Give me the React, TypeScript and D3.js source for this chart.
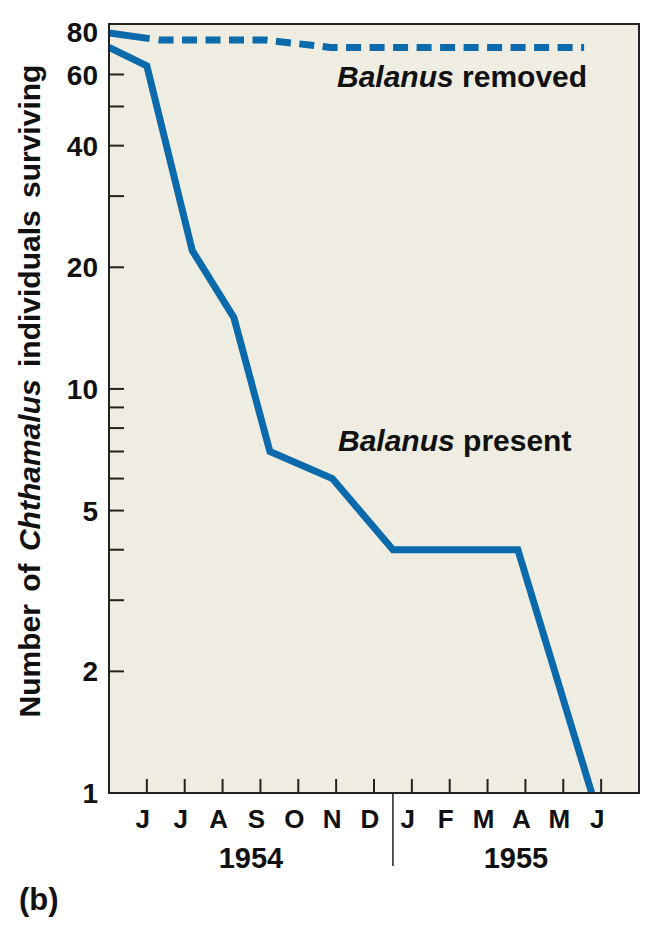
import React, { useEffect, useRef } from "react";
import { select, scaleLinear, scaleLog, line } from "d3";

// month index: 0 = June 1954
const monthLabels = ["J", "J", "A", "S", "O", "N", "D", "J", "F", "M", "A", "M", "J"];
const yearLabels = ["1954", "1955"];
const yearStarts = [-1, 6.5];
const yearEnds = [6.5, 13];
const yLabelTicks = [1, 2, 5, 10, 20, 40, 60, 80];
const yMinorTicks = [3, 4, 6, 7, 8, 9, 30, 50];

// Balanus present
const presentMonths = [-1, 0, 1.2, 2.3, 3.25, 4.9, 6.5, 9.8, 11.75];
const presentValues = [70, 63, 22, 15, 7, 6, 4, 4, 1];
// Balanus removed
const removedMonths = [-1, 0.35, 3.15, 4.85, 11.55];
const removedValues = [76, 73, 73, 70, 70];

const W = 646;
const H = 937;
const FONT = "'Liberation Sans', Arial, Helvetica, sans-serif";
const BLUE = "#0a6aab";
const INK = "#111";

const App = () => {
  const svgRef = useRef() as React.MutableRefObject<SVGSVGElement>;

  useEffect(() => {
    const margin = { top: 24, right: 7, bottom: 144, left: 109 };
    const svg = select(svgRef.current);
    svg.selectAll("*").remove();

    const x0 = margin.left;
    const x1 = W - margin.right;
    const y0 = margin.top;
    const y1 = H - margin.bottom;

    const x = scaleLinear().domain([-1, 13]).range([x0, x1]);
    const y = scaleLog().domain([1, 80]).range([y1, y0]);

    svg
      .append("defs")
      .append("clipPath")
      .attr("id", "plot-clip")
      .append("rect")
      .attr("x", x0)
      .attr("y", y0)
      .attr("width", x1 - x0)
      .attr("height", y1 - y0);

    svg
      .append("rect")
      .attr("x", x0)
      .attr("y", y0)
      .attr("width", x1 - x0)
      .attr("height", y1 - y0)
      .attr("fill", "#efece1");

    const lineGen = line<[number, number]>()
      .x((d) => x(d[0]))
      .y((d) => y(d[1]));

    const plot = svg.append("g").attr("clip-path", "url(#plot-clip)");

    const dash = ["41 9"];
    for (let i = 0; i < 40; i++) dash.push("15 8.5");

    plot
      .append("path")
      .attr("d", lineGen(removedMonths.map((m, i) => [m, removedValues[i]])) as string)
      .attr("fill", "none")
      .attr("stroke", BLUE)
      .attr("stroke-width", 7)
      .attr("stroke-dasharray", dash.join(" "));

    plot
      .append("path")
      .attr("d", lineGen(presentMonths.map((m, i) => [m, presentValues[i]])) as string)
      .attr("fill", "none")
      .attr("stroke", BLUE)
      .attr("stroke-width", 7)
      .attr("stroke-linejoin", "miter");

    // y ticks
    const tickLen = 15;
    [...yLabelTicks, ...yMinorTicks]
      .filter((v) => v > 1 && v < 80)
      .forEach((v) => {
        svg
          .append("line")
          .attr("x1", x0)
          .attr("x2", x0 + tickLen)
          .attr("y1", y(v))
          .attr("y2", y(v))
          .attr("stroke", "#222")
          .attr("stroke-width", 2);
      });

    svg
      .selectAll("text.ylab")
      .data(yLabelTicks)
      .join("text")
      .attr("class", "ylab")
      .attr("x", x0 - 11)
      .attr("y", (d) => Math.max(y(d), y0 + 8))
      .attr("dy", "0.36em")
      .attr("text-anchor", "end")
      .attr("font-family", FONT)
      .attr("font-weight", "bold")
      .attr("font-size", 28)
      .attr("fill", INK)
      .text((d) => d);

    // x ticks
    monthLabels.forEach((m, i) => {
      svg
        .append("line")
        .attr("x1", x(i))
        .attr("x2", x(i))
        .attr("y1", y1)
        .attr("y2", y1 - 14)
        .attr("stroke", "#222")
        .attr("stroke-width", 2);
      svg
        .append("text")
        .attr("x", x(i) - 4)
        .attr("y", y1 + 35)
        .attr("text-anchor", "middle")
        .attr("font-family", FONT)
        .attr("font-weight", "bold")
        .attr("font-size", 26)
        .attr("fill", INK)
        .text(m);
    });

    // year divider
    svg
      .append("line")
      .attr("x1", x(yearEnds[0]))
      .attr("x2", x(yearEnds[0]))
      .attr("y1", y1)
      .attr("y2", y1 + 73)
      .attr("stroke", "#222")
      .attr("stroke-width", 1.5);

    yearLabels.forEach((yr, i) => {
      svg
        .append("text")
        .attr("x", (x(yearStarts[i]) + x(yearEnds[i])) / 2)
        .attr("y", y1 + 75)
        .attr("text-anchor", "middle")
        .attr("font-family", FONT)
        .attr("font-weight", "bold")
        .attr("font-size", 29)
        .attr("fill", INK)
        .text(yr);
    });

    // frame
    svg
      .append("rect")
      .attr("x", x0)
      .attr("y", y0)
      .attr("width", x1 - x0)
      .attr("height", y1 - y0)
      .attr("fill", "none")
      .attr("stroke", "#222")
      .attr("stroke-width", 2);

    // series labels
    const label = (lx: number, ly: number, rest: string) => {
      const t = svg
        .append("text")
        .attr("x", lx)
        .attr("y", ly)
        .attr("font-family", FONT)
        .attr("font-weight", "bold")
        .attr("font-size", 30)
        .attr("fill", INK);
      t.append("tspan").attr("font-style", "italic").text("Balanus");
      t.append("tspan").text(" " + rest);
    };
    label(337, 87, "removed");
    label(338, 451, "present");

    // y title
    const title = svg
      .append("text")
      .attr("transform", `translate(40, 391) rotate(-90)`)
      .attr("text-anchor", "middle")
      .attr("font-family", FONT)
      .attr("font-weight", "bold")
      .attr("font-size", 30)
      .attr("word-spacing", 4)
      .attr("fill", INK);
    title.append("tspan").text("Number of ");
    title.append("tspan").attr("font-style", "italic").text("Chthamalus");
    title.append("tspan").text(" individuals surviving");

    svg
      .append("text")
      .attr("x", 19)
      .attr("y", 910)
      .attr("font-family", FONT)
      .attr("font-weight", "bold")
      .attr("font-size", 31)
      .attr("fill", INK)
      .text("(b)");
  }, []);

  return (
    <div style={{ position: "absolute", left: 0, top: 0 }}>
      <svg ref={svgRef} width={W} height={H} style={{ display: "block", background: "#fff" }} />
    </div>
  );
};

export default App;
